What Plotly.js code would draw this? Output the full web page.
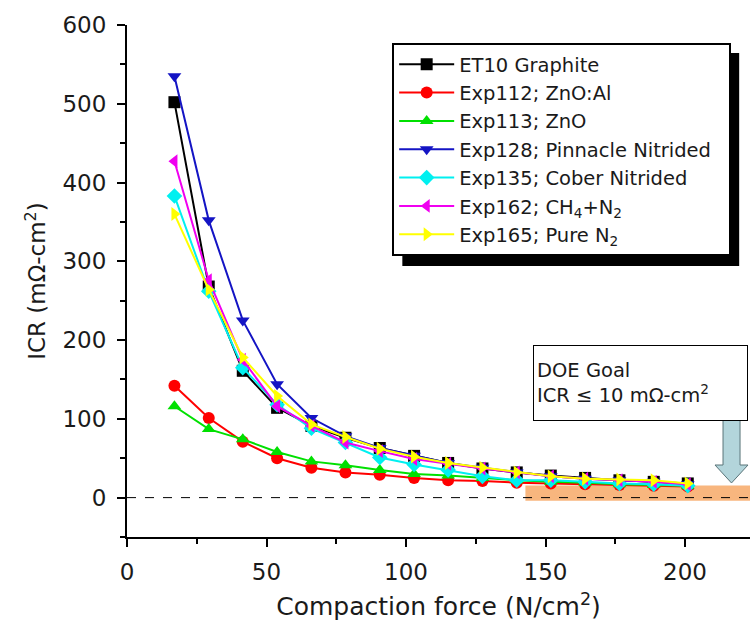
<!DOCTYPE html>
<html>
<head>
<meta charset="utf-8">
<script src="https://cdn.plot.ly/plotly-3.0.1.min.js"></script>
<style>html,body{margin:0;padding:0;background:#fff;}#chart{width:750px;height:637px;}</style>
</head>
<body>
<div id="chart"></div>
<script>
// Compaction force (N/cm^2)
const force = [17, 29.3, 41.5, 53.8, 66.1, 78.3, 90.6, 102.9, 115.1, 127.4, 139.7, 151.9, 164.2, 176.5, 188.8, 201];
// ICR (mOhm-cm^2)
const et10Graphite   = [502, 268, 161, 114, 91, 76, 63, 53, 44, 37, 32, 28, 25, 22, 20, 18];
const exp112ZnOAl    = [142, 101, 71, 50, 38, 32, 29, 25, 22, 21, 19, 18, 17, 16, 15, 14];
const exp113ZnO      = [116, 87, 74, 58, 46, 41, 35, 30, 28, 25, 22, 20, 19, 17, 16, 15];
const exp128Pinnacle = [535, 352, 225, 144, 101, 78, 63, 53, 44, 38, 32, 27, 24, 22, 20, 17];
const exp135Cober    = [383, 262, 165, 118, 88, 70, 51, 42, 35, 27, 22, 22, 20, 18, 17, 15];
const exp162CH4N2    = [427, 276, 175, 116, 91, 70, 59, 49, 43, 37, 32, 27, 24, 22, 20, 17];
const exp165PureN2   = [360, 264, 178, 129, 93, 77, 62, 52, 44, 38, 32, 27, 24, 23, 22, 18];

const seriesNames = ['ET10 Graphite', 'Exp112; ZnO:Al', 'Exp113; ZnO', 'Exp128; Pinnacle Nitrided\u00a0\u00a0',
  'Exp135; Cober Nitrided', 'Exp162; CH<sub>4</sub>+N<sub>2</sub>', 'Exp165; Pure N<sub>2</sub>'];
const seriesValues = [et10Graphite, exp112ZnOAl, exp113ZnO, exp128Pinnacle, exp135Cober, exp162CH4N2, exp165PureN2];
const seriesColors = ['#000000', '#FF0000', '#00E000', '#1414C4', '#00F0F0', '#F000F0', '#FFFF00'];
const seriesSymbols = ['square', 'circle', 'triangle-up', 'triangle-down', 'diamond', 'triangle-left', 'triangle-right'];

const goalXStart = 142.8;   // DOE goal band start (N/cm^2)
const goalBand = [-4, 15.5];

const FONT = 'DejaVu Sans, Verdana, sans-serif';
const TXT = '#1a1a1a';

const traces = seriesNames.map((n, i) => ({
  x: force, y: seriesValues[i], name: n, type: 'scatter', mode: 'lines+markers',
  legendgroup: 'g' + i,
  line: {color: seriesColors[i], width: 2},
  marker: {color: seriesColors[i], symbol: seriesSymbols[i], size: 12, line: {width: 0}}
}));

// pixel -> paper helpers (plot area: x 126.7..750, y 25..537)
const L = 126.7, R = 750, T = 25, B = 537;
const px = X => (X - L) / (R - L);
const py = Y => (B - Y) / (B - T);

const arrowPts = [[723,418],[740,418],[740,465],[748,465],[731.5,483],[715,465],[723,465]];
const arrowPath = 'M ' + arrowPts.map(p => px(p[0]).toFixed(4) + ',' + py(p[1]).toFixed(4)).join(' L ') + ' Z';

const layout = {
  width: 750, height: 637,
  margin: {l: 126.7, r: 0, t: 25, b: 100, pad: 0},
  paper_bgcolor: '#ffffff', plot_bgcolor: '#ffffff',
  font: {family: FONT, color: TXT, size: 19},
  showlegend: true,
  xaxis: {
    range: [0, 223.3], dtick: 50, tick0: 0, showgrid: false, zeroline: false,
    showline: true, linecolor: '#000', linewidth: 2, mirror: false,
    ticks: 'outside', ticklen: 8, tickwidth: 2, tickcolor: '#000',
    minor: {dtick: 25, ticks: 'outside', ticklen: 5, tickwidth: 2, tickcolor: '#000'},
    tickfont: {size: 23, family: FONT, color: TXT},
    ticklabelstandoff: 5,
    title: {text: 'Compaction force (N/cm<sup>2</sup>)', font: {size: 25, family: FONT, color: TXT}, standoff: 14}
  },
  yaxis: {
    range: [-50, 600], dtick: 100, tick0: 0, showgrid: false, zeroline: false,
    showline: true, linecolor: '#000', linewidth: 2,
    ticks: 'outside', ticklen: 8, tickwidth: 2, tickcolor: '#000',
    minor: {dtick: 50, ticks: 'outside', ticklen: 5, tickwidth: 2, tickcolor: '#000'},
    tickfont: {size: 23, family: FONT, color: TXT},
    ticklabelstandoff: 6,
    title: {text: 'ICR (mΩ-cm<sup>2</sup>)', font: {size: 23, family: FONT, color: TXT}, standoff: 10}
  },
  legend: {
    x: px(392), y: py(43), xanchor: 'left', yanchor: 'top',
    bgcolor: '#ffffff', bordercolor: '#000', borderwidth: 2,
    font: {size: 19.5, family: FONT, color: TXT},
    traceorder: 'grouped', tracegroupgap: 0,
    itemwidth: 55
  },
  shapes: [
    {type: 'rect', xref: 'x', yref: 'y', x0: goalXStart, x1: 230, y0: goalBand[0], y1: goalBand[1],
     fillcolor: '#F8B67E', line: {width: 0}, layer: 'below'},
    {type: 'line', xref: 'x', yref: 'y', x0: 0, x1: 223.3, y0: 0, y1: 0,
     line: {color: '#000', width: 1, dash: 'dash'}, layer: 'below'},
    // legend shadow (resized to the drawn legend below)
    {type: 'rect', xref: 'paper', yref: 'paper', x0: px(401), x1: px(741), y0: py(269), y1: py(52),
     fillcolor: '#000', line: {width: 0}, layer: 'above'},
    // arrow
    {type: 'path', xref: 'paper', yref: 'paper', path: arrowPath,
     fillcolor: '#B3D5DB', line: {color: '#5a7479', width: 1}, layer: 'above'}
  ],
  annotations: [
    {xref: 'paper', yref: 'paper', x: px(533), y: py(345), xanchor: 'left', yanchor: 'top',
     text: 'DOE Goal<br>ICR ≤ 10 mΩ-cm<sup>2</sup>', align: 'left', showarrow: false,
     bgcolor: '#ffffff', bordercolor: '#000', borderwidth: 1, borderpad: 3,
     width: 207, height: 68, valign: 'middle',
     font: {size: 19.5, family: FONT, color: TXT}}
  ]
};

Plotly.newPlot('chart', traces, layout, {displayModeBar: false, staticPlot: true}).then(gd => {
  const bg = gd.querySelector('.legend .bg');
  if (!bg) return;
  const r = bg.getBoundingClientRect();
  const c = gd.getBoundingClientRect();
  const left = r.left - c.left, top = r.top - c.top, right = r.right - c.left, bottom = r.bottom - c.top;
  return Plotly.relayout(gd, {
    'shapes[2].x0': px(left + 9), 'shapes[2].x1': px(right + 9),
    'shapes[2].y0': py(bottom + 11), 'shapes[2].y1': py(top + 9)
  });
});
</script>
</body>
</html>
